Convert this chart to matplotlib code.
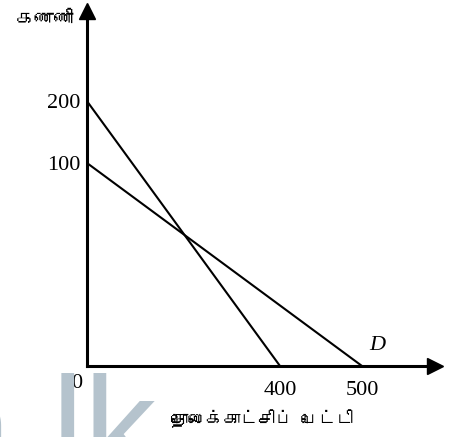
import numpy as np
import matplotlib
matplotlib.use("Agg")
import matplotlib.pyplot as plt
from matplotlib import font_manager, ft2font

# intercepts of the two straight lines (y at x=0, x at y=0)
y_intercepts = [200, 100]
x_intercepts = [400, 500]
y_ticks = [100, 200]
x_ticks = [400, 500]
y_label = "கணணி"
x_label = "தொலைக்காட்சிப் பெட்டி"
curve_label = "D"
watermark = "a.lk"

# the drawing is not to scale, so the axes get a piecewise scale
y_knots = [0, 100, 200, 300]
y_frac = [0, 0.571, 0.745, 1.0]
x_knots = [0, 400, 500, 600]
x_frac = [0, 0.5554, 0.7914, 1.0]


def find_tamil_font():
    for f in font_manager.fontManager.ttflist:
        try:
            if 0x0B95 in ft2font.FT2Font(f.fname).get_charmap():
                return f.name
        except Exception:
            pass
    return "DejaVu Sans"


tamil = [find_tamil_font(), "DejaVu Sans"]
serif = ["Liberation Serif", "DejaVu Serif"]

fig = plt.figure(figsize=(4.55, 4.37), dpi=100)
ax = fig.add_axes([87 / 455, 71 / 437, 347.5 / 455, 355.5 / 437])

ax.set_xscale("function", functions=(lambda v: np.interp(v, x_knots, x_frac),
                                     lambda v: np.interp(v, x_frac, x_knots)))
ax.set_yscale("function", functions=(lambda v: np.interp(v, y_knots, y_frac),
                                     lambda v: np.interp(v, y_frac, y_knots)))

for y0, x0 in zip(y_intercepts, x_intercepts):
    ax.plot([0, x0], [y0, 0], color="black", lw=1.5, solid_capstyle="butt")

ax.set_xlim(0, 600)
ax.set_ylim(0, 300)

for s in ["top", "right"]:
    ax.spines[s].set_visible(False)
for s in ["left", "bottom"]:
    ax.spines[s].set_linewidth(2.2)

# arrow heads
ax.plot(1, 0, ">k", ms=12, transform=ax.get_yaxis_transform(), clip_on=False)
ax.plot(0, 1, "^k", ms=12, transform=ax.get_xaxis_transform(), clip_on=False)

ax.set_xticks(x_ticks)
ax.set_yticks(y_ticks)
ax.set_xticklabels([str(v) for v in x_ticks], fontfamily=serif, fontsize=16)
ax.set_yticklabels([str(v) for v in y_ticks], fontfamily=serif, fontsize=16)
ax.tick_params(axis="x", length=0, pad=11)
ax.tick_params(axis="y", length=0, pad=5)

ax.annotate("0", xy=(0, 0), xytext=(-10, -17), textcoords="offset pixels",
            ha="center", va="center", fontfamily=serif, fontsize=16)
ax.annotate(curve_label, xy=(x_intercepts[1], 0), xytext=(15, 21),
            textcoords="offset pixels", ha="center", va="center",
            fontfamily=serif, fontsize=16, style="italic")

fig.text(45 / 455, 1 - 19 / 437, y_label, ha="center", va="center",
         fontfamily=tamil, fontsize=14)
fig.text(262 / 455, 1 - 419 / 437, x_label, ha="center", va="center",
         fontfamily=tamil, fontsize=12.5)

fig.text(-68 / 455, 1 - 478 / 437, watermark, ha="left", va="baseline",
         fontfamily="Liberation Sans", fontsize=104, color="#b5c3cd", zorder=0)

fig.savefig("out.png", dpi=100)
